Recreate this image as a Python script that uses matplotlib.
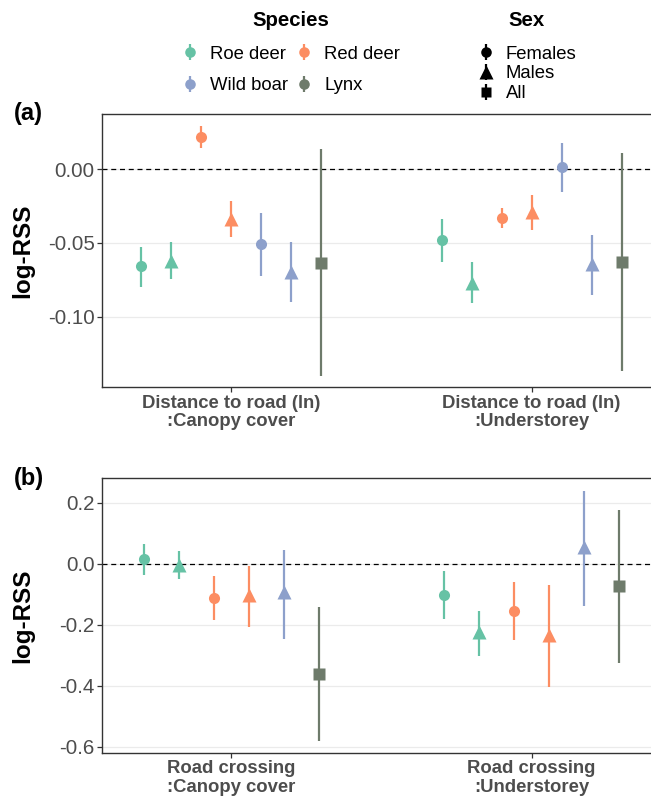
import numpy as np
import matplotlib.pyplot as plt
from matplotlib.lines import Line2D
from matplotlib.legend_handler import HandlerTuple

plt.rcParams['font.family'] = ['Liberation Sans', 'DejaVu Sans']
plt.rcParams['axes.unicode_minus'] = False

# ---- data ----
species_names = ['Roe deer', 'Red deer', 'Wild boar', 'Lynx']
species_colors = {'Roe deer': '#66C2A5', 'Red deer': '#FC8D62',
                  'Wild boar': '#8DA0CB', 'Lynx': '#6E7B6B'}
sex_names = ['Females', 'Males', 'All']
sex_markers = {'Females': 'o', 'Males': '^', 'All': 's'}

# panel (a): distance to road
a_terms = ['Distance to road (ln)\n:Canopy cover', 'Distance to road (ln)\n:Understorey']
a_species = ['Roe deer', 'Roe deer', 'Red deer', 'Red deer', 'Wild boar', 'Wild boar', 'Lynx']
a_sex = ['Females', 'Males', 'Females', 'Males', 'Females', 'Males', 'All']
a_est_canopy = [-0.0656, -0.0622, 0.0222, -0.0335, -0.0509, -0.0695, -0.0633]
a_lo_canopy = [-0.0796, -0.0747, 0.0147, -0.0457, -0.0722, -0.0903, -0.1400]
a_hi_canopy = [-0.0525, -0.0495, 0.0296, -0.0213, -0.0299, -0.0491, 0.0138]
a_est_under = [-0.0480, -0.0769, -0.0330, -0.0292, 0.0014, -0.0645, -0.0631]
a_lo_under = [-0.0627, -0.0910, -0.0396, -0.0412, -0.0156, -0.0851, -0.1367]
a_hi_under = [-0.0337, -0.0631, -0.0265, -0.0172, 0.0181, -0.0443, 0.0109]

# panel (b): road crossing (no wild boar females)
b_terms = ['Road crossing\n:Canopy cover', 'Road crossing\n:Understorey']
b_species = ['Roe deer', 'Roe deer', 'Red deer', 'Red deer', 'Wild boar', 'Lynx']
b_sex = ['Females', 'Males', 'Females', 'Males', 'Males', 'All']
b_est_canopy = [0.0142, -0.0040, -0.1126, -0.1030, -0.0940, -0.3620]
b_lo_canopy = [-0.0380, -0.0510, -0.1860, -0.2090, -0.2480, -0.5800]
b_hi_canopy = [0.0645, 0.0400, -0.0415, -0.0080, 0.0460, -0.1410]
b_est_under = [-0.1030, -0.2250, -0.1550, -0.2340, 0.0540, -0.0740]
b_lo_under = [-0.1800, -0.3040, -0.2500, -0.4040, -0.1400, -0.3270]
b_hi_under = [-0.0250, -0.1560, -0.0600, -0.0690, 0.2390, 0.1770]

a_ticks = [-0.10, -0.05, 0.00]
b_ticks = [-0.6, -0.4, -0.2, 0.0, 0.2]

W, H = 651, 796
fig = plt.figure(figsize=(W / 100, H / 100), dpi=100)

grey_txt = '#4D4D4D'
msize = {'o': 8.0, '^': 10.5, 's': 8.2}


def draw_panel(ax, species, sex, groups, dodge, ylim, yticks, yfmt, terms, tag):
    n = len(species)
    offsets = (np.arange(n) - (n - 1) / 2) * dodge / n
    for gi, (est, lo, hi) in enumerate(groups):
        xs = gi + 1 + offsets
        for i in range(n):
            c = species_colors[species[i]]
            m = sex_markers[sex[i]]
            ax.vlines(xs[i], lo[i], hi[i], color=c, lw=1.6, zorder=3)
            ax.plot(xs[i], est[i], marker=m, ms=msize[m], color=c,
                    mec='none', zorder=4, ls='none')
    ax.axhline(0, color='black', lw=0.9, ls=(0, (4, 3)), zorder=2)
    ax.set_xlim(0.57, 2.4276)
    ax.set_ylim(*ylim)
    ax.set_yticks(yticks)
    ax.set_yticklabels([yfmt.format(t) for t in yticks], fontsize=14.8, color=grey_txt)
    ax.set_xticks([1, 2])
    ax.set_xticklabels(terms, fontsize=13.3, fontweight='bold', color=grey_txt,
                       linespacing=1.1)
    ax.grid(axis='y', color='#EBEBEB', lw=0.9, zorder=0)
    ax.set_axisbelow(True)
    for s in ax.spines.values():
        s.set_color('#333333')
        s.set_linewidth(1.0)
    ax.tick_params(length=3.5, color='#333333', width=0.9, pad=2)
    ax.set_ylabel('log-RSS', fontsize=17.5, fontweight='bold')
    ax.yaxis.set_label_coords(-0.122, 0.5)
    ax.text(-0.159, 1.0, tag, transform=ax.transAxes, fontsize=17,
            fontweight='bold', ha='left', va='center')


ax_a = fig.add_axes([102.2 / W, 1 - 387.3 / H, (660 - 102.2) / W, (387.3 - 113.7) / H])
draw_panel(ax_a, a_species, a_sex,
           [(a_est_canopy, a_lo_canopy, a_hi_canopy), (a_est_under, a_lo_under, a_hi_under)],
           0.7, (-0.148, 0.0378), a_ticks, '{:.2f}', a_terms, '(a)')

ax_b = fig.add_axes([102.2 / W, 1 - 752.7 / H, (660 - 102.2) / W, (752.7 - 478.3) / H])
draw_panel(ax_b, b_species, b_sex,
           [(b_est_canopy, b_lo_canopy, b_hi_canopy), (b_est_under, b_lo_under, b_hi_under)],
           0.7, (-0.620, 0.280), b_ticks, '{:.1f}', b_terms, '(b)')


# ---- legends ----
def key(color, marker):
    bar = Line2D([], [], marker='|', ms=12, mew=1.6, color=color, ls='none')
    pt = Line2D([], [], marker=marker, ms=msize[marker] * 0.95, color=color, mec='none', ls='none')
    return (bar, pt)


# ggplot fills legend rows first; matplotlib fills columns -> reorder
sp_order = [species_names[0], species_names[2], species_names[1], species_names[3]]
sp_handles = [key(species_colors[s], 'o') for s in sp_order]
fig.legend(sp_handles, sp_order, ncol=2, frameon=False,
           fontsize=13.3, handlelength=1.0, handletextpad=0.6,
           columnspacing=0.36, labelspacing=0.78, borderpad=0, borderaxespad=0,
           handler_map={tuple: HandlerTuple(ndivide=1)},
           loc='upper left', bbox_to_anchor=(180.6 / W, 1 - 45.8 / H))

sx_handles = [key('black', sex_markers[s]) for s in sex_names]
fig.legend(sx_handles, sex_names, ncol=1, frameon=False,
           fontsize=13.3, handlelength=1.0, handletextpad=0.58,
           labelspacing=0.14, borderpad=0, borderaxespad=0,
           handler_map={tuple: HandlerTuple(ndivide=1)},
           loc='upper left', bbox_to_anchor=(476.3 / W, 1 - 45.8 / H))

fig.text(290.7 / W, 1 - 20 / H, 'Species', fontsize=14.7, fontweight='bold',
         ha='center', va='center')
fig.text(526.6 / W, 1 - 20 / H, 'Sex', fontsize=14.7, fontweight='bold',
         ha='center', va='center')

fig.savefig('out.png', dpi=100)
